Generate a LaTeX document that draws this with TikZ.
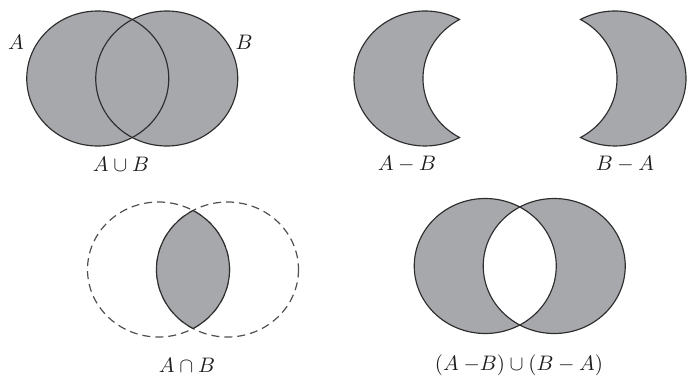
\documentclass[tikz,border=0pt]{standalone}
\definecolor{setgray}{RGB}{167,168,172}
\definecolor{setedge}{RGB}{45,45,45}
\definecolor{dashedge}{RGB}{80,80,80}
\definecolor{labtext}{RGB}{30,30,30}
\begin{document}
\begin{tikzpicture}[x=1pt,y=-1pt,
  setfill/.style={fill=setgray},
  setline/.style={draw=setedge, line width=1.15pt},
  dashline/.style={draw=dashedge, line width=1.2pt, dash pattern=on 8pt off 5pt},
  lab/.style={scale=2.1, inner sep=0pt, text=labtext},
  ell/.style={x radius=71, y radius=67.5}]
\useasboundingbox (0,0) rectangle (688,378);
\def\vta{60.93}
\def\vtb{119.07}
\def\vtc{240.93}
% ---------- A union B ----------
\fill[setfill] (97.75,78.5) ellipse[ell];
\fill[setfill] (166.75,78.5) ellipse[ell];
\draw[setline] (97.75,78.5) ellipse[ell];
\draw[setline] (166.75,78.5) ellipse[ell];
\node[lab] (lA) at (16,42) {$A$};
\node[lab] (lB) at (244,42) {$B$};
\node[lab] (lunion) at (121,164.5) {$A\cup B$};
% ---------- A - B ----------
\path[setfill,setline] (459.5,19.5)
  arc[start angle=-\vta, end angle=-299.07, ell]
  arc[start angle=\vtb, end angle=\vtc, ell] -- cycle;
\node[lab] (lamb) at (407,164) {$A-B$};
% ---------- B - A ----------
\path[setfill,setline] (580.5,19.5)
  arc[start angle=-\vtb, end angle=\vtb, ell]
  arc[start angle=\vta, end angle=-\vta, ell] -- cycle;
\node[lab] (lbma) at (625,164) {$B-A$};
% ---------- A cap B ----------
\draw[dashline] (158.5,269.5) ellipse[ell];
\draw[dashline] (227.5,269.5) ellipse[ell];
\path[setfill,setline] (193,210.5)
  arc[start angle=-\vta, end angle=\vta, ell]
  arc[start angle=\vtb, end angle=\vtc, ell] -- cycle;
\node[lab] (linter) at (187,365) {$A\cap B$};
% ---------- symmetric difference ----------
\fill[setfill, even odd rule] (485.25,266) ellipse[ell] (554.25,266) ellipse[ell];
\draw[setline] (485.25,266) ellipse[ell];
\draw[setline] (554.25,266) ellipse[ell];
\node[lab] (lsym) at (519,365) {$(A\mskip\medmuskip{-}B)\cup(B-A)$};
\end{tikzpicture}
\end{document}
